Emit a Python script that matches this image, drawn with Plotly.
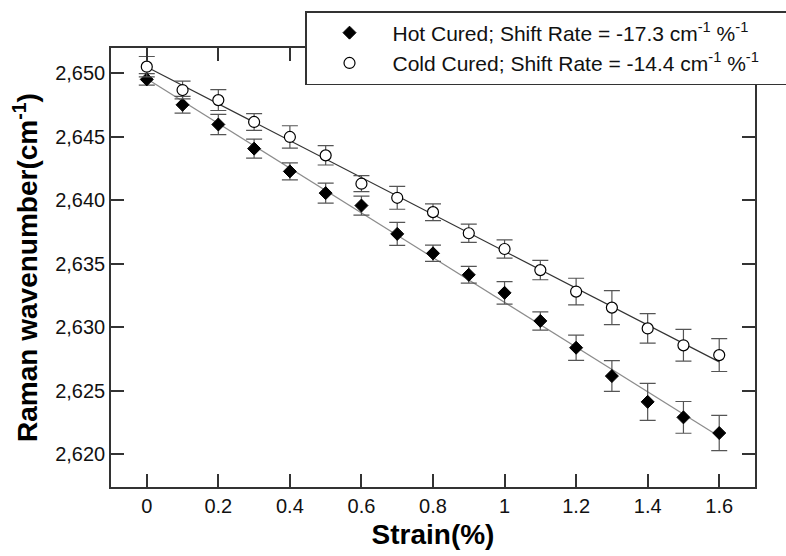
import numpy as np
import plotly.graph_objects as go

strain = [0, 0.1, 0.2, 0.3, 0.4, 0.5, 0.6, 0.7, 0.8, 0.9, 1.0, 1.1, 1.2, 1.3, 1.4, 1.5, 1.6]
hot = [2649.5, 2647.5, 2645.95, 2644.05, 2642.26, 2640.55, 2639.57, 2637.34, 2635.81,
       2634.12, 2632.7, 2630.49, 2628.38, 2626.15, 2624.12, 2622.9, 2621.67]
hot_err = [0.45, 0.66, 0.8, 0.75, 0.67, 0.79, 0.75, 0.9, 0.64,
           0.66, 0.88, 0.72, 0.99, 1.21, 1.45, 1.25, 1.38]
cold = [2650.5, 2648.66, 2647.87, 2646.15, 2644.97, 2643.52, 2641.29, 2640.18, 2639.05,
        2637.39, 2636.15, 2634.49, 2632.8, 2631.54, 2629.9, 2628.57, 2627.8]
cold_err = [0.8, 0.7, 0.82, 0.66, 0.88, 0.76, 0.63, 0.9, 0.66,
            0.72, 0.72, 0.76, 1.05, 1.34, 1.16, 1.25, 1.29]

pad = "&nbsp;" * 6
hot_name = "Hot Cured; Shift Rate = -17.3 cm<sup>-1</sup> %<sup>-1</sup>" + pad
cold_name = "Cold Cured; Shift Rate = -14.4 cm<sup>-1</sup> %<sup>-1</sup>" + pad

x_arr = np.array(strain)
hot_fit = np.polyval(np.polyfit(x_arr, hot, 1), x_arr)
cold_fit = np.polyval(np.polyfit(x_arr, cold, 1), x_arr)

FONT = "Liberation Sans, Arial, sans-serif"

fig = go.Figure()
fig.add_trace(go.Scatter(x=strain, y=hot_fit, mode="lines",
                         line=dict(color="#8c8c8c", width=1.2), showlegend=False, hoverinfo="skip"))
fig.add_trace(go.Scatter(x=strain, y=cold_fit, mode="lines",
                         line=dict(color="#333333", width=1.2), showlegend=False, hoverinfo="skip"))
fig.add_trace(go.Scatter(
    x=strain, y=hot, mode="markers", name=hot_name,
    marker=dict(symbol="diamond", size=10, color="black", line=dict(color="black", width=1)),
    error_y=dict(type="data", array=hot_err, visible=True, color="#555555", thickness=1.2, width=8),
))
fig.add_trace(go.Scatter(
    x=strain, y=cold, mode="markers", name=cold_name,
    marker=dict(symbol="circle", size=11, color="white", line=dict(color="black", width=1.2)),
    error_y=dict(type="data", array=cold_err, visible=True, color="#555555", thickness=1.2, width=8),
))

axis_common = dict(
    showline=True, linecolor="#333333", linewidth=1.5, mirror="ticks",
    ticks="inside", ticklen=13, tickwidth=1.5, tickcolor="#333333",
    showgrid=False, zeroline=False,
    tickfont=dict(family=FONT, size=20, color="#111111"),
)

fig.update_layout(
    width=786, height=556,
    margin=dict(l=111, r=31, t=48, b=69, autoexpand=False),
    paper_bgcolor="white", plot_bgcolor="white",
    font=dict(family=FONT, color="black"),
    xaxis=dict(range=[-0.1, 1.7], dtick=0.2, tick0=0,
               title=dict(text="<b>Strain(%)</b>", font=dict(family=FONT, size=28), standoff=9),
               **axis_common),
    yaxis=dict(range=[2617.42, 2651.97], dtick=5, tick0=2620, tickformat=",d",
               title=dict(text="<b>Raman wavenumber(cm<sup>-1</sup>)</b>", font=dict(family=FONT, size=28), standoff=9),
               **axis_common),
    legend=dict(
        x=(305 - 111) / 644, y=(487 - 11) / 439, xanchor="left", yanchor="top",
        bgcolor="white", bordercolor="#333333", borderwidth=1.5,
        font=dict(family=FONT, size=21, color="#111111"),
        itemwidth=76, tracegroupgap=0,
    ),
)

fig.write_html("out.html")
